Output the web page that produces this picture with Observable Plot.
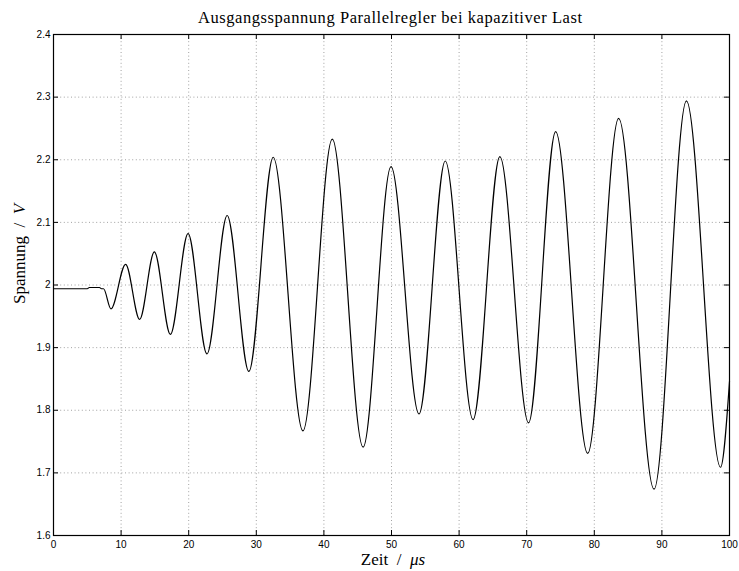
<!DOCTYPE html>
<html>
<head>
<meta charset="utf-8">
<script src="https://cdn.jsdelivr.net/npm/d3@7"></script>
<script src="https://cdn.jsdelivr.net/npm/@observablehq/plot@0.6"></script>
<style>
  body { margin: 0; background: #fff; }
  #chart svg { display: block; }
</style>
</head>
<body>
<div id="chart"></div>
<script>
// Output voltage of the shunt regulator under capacitive load:
// the flat start, then each successive trough / peak of the oscillation.
const timeUs = [0, 5.0, 5.3, 6.8, 7.1, 7.4, 8.5, 10.67, 12.74, 14.92, 17.29, 19.91,
  22.7, 25.69, 28.9, 32.5, 36.9, 41.24, 45.8, 49.93, 54.07, 57.95, 62.07, 66.03,
  70.28, 74.28, 79.02, 83.6, 88.84, 93.63, 98.67, 100];
const voltage = [1.994, 1.994, 1.996, 1.996, 1.994, 1.994, 1.962, 2.033, 1.945, 2.053, 1.921, 2.082,
  1.890, 2.111, 1.862, 2.204, 1.767, 2.233, 1.741, 2.189, 1.794, 2.198, 1.785, 2.205,
  1.780, 2.245, 1.731, 2.266, 1.674, 2.294, 1.709, 1.846];

const xTicks = [0, 10, 20, 30, 40, 50, 60, 70, 80, 90, 100];
const yTicks = [1.6, 1.7, 1.8, 1.9, 2, 2.1, 2.2, 2.3, 2.4];

const titleText = "Ausgangsspannung Parallelregler bei kapazitiver Last";
const xLabelText = "Zeit\u2002/\u2002";
const xLabelUnit = "\u03bcs";
const yLabelText = "Spannung\u2002/\u2002";
const yLabelUnit = "V";

const W = 739, H = 571;
const mL = 53, mR = 10, mT = 34, mB = 36;
const innerW = W - mL - mR, innerH = H - mT - mB;
const tickLen = 5;

const samples = timeUs.map((t, i) => ({t, v: voltage[i]}));

const gridStyle = {stroke: "#8a8a8a", strokeOpacity: 1, strokeWidth: 0.8, strokeDasharray: "1,2.6"};
const tickStyle = {stroke: "#000", strokeWidth: 1};

const chart = Plot.plot({
  width: W,
  height: H,
  marginLeft: mL,
  marginRight: mR,
  marginTop: mT,
  marginBottom: mB,
  style: {background: "#fff", fontFamily: "'Liberation Sans', Arial, sans-serif", fontSize: "10px", color: "#000"},
  x: {domain: [0, 100]},
  y: {domain: [1.6, 2.4]},
  marks: [
    Plot.gridX(xTicks, gridStyle),
    Plot.gridY(yTicks, gridStyle),
    Plot.line(samples, {x: "t", y: "v", curve: "monotone-x", stroke: "#000", strokeWidth: 1.2}),
    // inward ticks on all four sides of the box
    Plot.ruleX(xTicks, {...tickStyle, insetTop: innerH - tickLen}),
    Plot.ruleX(xTicks, {...tickStyle, insetBottom: innerH - tickLen}),
    Plot.ruleY(yTicks, {...tickStyle, insetRight: innerW - tickLen}),
    Plot.ruleY(yTicks, {...tickStyle, insetLeft: innerW - tickLen}),
    Plot.frame({stroke: "#000", strokeWidth: 1.2}),
    Plot.axisX(xTicks, {anchor: "bottom", tickSize: 0, tickPadding: 5, label: null}),
    Plot.axisY(yTicks, {anchor: "left", tickSize: 0, tickPadding: 3, tickFormat: d3.format("~g"), label: null})
  ]
});

const svg = d3.select(chart);
const serif = "'Liberation Serif', 'Times New Roman', serif";
const cx = mL + innerW / 2;

svg.append("text")
  .attr("x", cx - 1)
  .attr("y", 23)
  .attr("text-anchor", "middle")
  .attr("textLength", 384)
  .attr("lengthAdjust", "spacing")
  .style("font-family", serif)
  .style("font-size", "16.5px")
  .attr("fill", "#000")
  .text(titleText);

const xl = svg.append("text")
  .attr("x", cx + 2)
  .attr("y", 565)
  .attr("text-anchor", "middle")
  .style("font-family", serif)
  .style("font-size", "17px")
  .attr("fill", "#000");
xl.append("tspan").text(xLabelText);
xl.append("tspan").style("font-style", "italic").text(xLabelUnit);

const yl = svg.append("text")
  .attr("transform", `translate(25,254) rotate(-90)`)
  .attr("text-anchor", "middle")
  .style("font-family", serif)
  .style("font-size", "17px")
  .attr("fill", "#000");
yl.append("tspan").text(yLabelText);
yl.append("tspan").style("font-style", "italic").text(yLabelUnit);

document.getElementById("chart").append(chart);
</script>
</body>
</html>
